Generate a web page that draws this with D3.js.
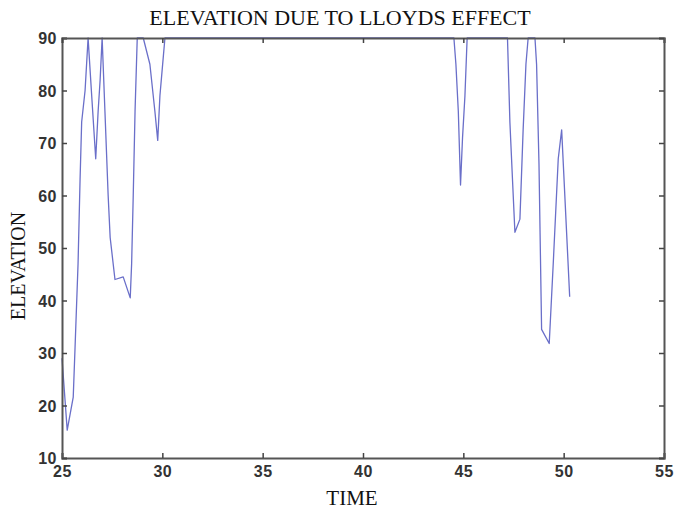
<!DOCTYPE html>
<html>
<head>
<meta charset="utf-8">
<script src="https://cdn.jsdelivr.net/npm/d3@7"></script>
<style>
  html, body { margin: 0; padding: 0; background: #fff; }
  svg { display: block; }
</style>
</head>
<body>
<div id="chart"></div>
<script>
// ---- data ----
const title = "ELEVATION DUE TO LLOYDS EFFECT";
const xLabel = "TIME";
const yLabel = "ELEVATION";
const xTicks = [25, 30, 35, 40, 45, 50, 55];
const yTicks = [10, 20, 30, 40, 50, 60, 70, 80, 90];
const time = [25.0, 25.26, 25.56, 25.65, 25.8, 25.9, 25.98, 26.15, 26.3, 26.48, 26.68, 26.8, 26.9, 27.0,
  27.14, 27.3, 27.4, 27.64, 28.05, 28.4, 28.47, 28.55, 28.64, 28.75, 29.05, 29.38, 29.63, 29.77,
  29.88, 30.05, 30.13, 44.53, 44.63, 44.75, 44.86, 44.96, 45.08, 45.19, 47.2, 47.32, 47.45,
  47.57, 47.82, 47.98, 48.12, 48.23, 48.57, 48.65, 48.77, 48.9, 49.28, 49.48, 49.73, 49.9, 50.3];
const elevation = [29, 15.3, 21.6, 31, 47, 63, 74, 80, 90, 79, 67, 76, 82, 90,
  76, 60, 52, 44, 44.5, 40.5, 47, 60, 76, 90, 90, 85, 76, 70.5,
  79, 86.5, 90, 90, 85, 76, 62, 71, 79, 90, 90, 74, 63,
  53, 55.5, 72.5, 85, 90, 90, 85, 66, 34.5, 31.8, 47, 67, 72.5, 40.7];

// ---- layout ----
const W = 675, H = 510;
const m = { left: 62, right: 11, top: 38, bottom: 52 };
const iw = W - m.left - m.right, ih = H - m.top - m.bottom;

const svg = d3.select("#chart").append("svg").attr("width", W).attr("height", H);

const x = d3.scaleLinear().domain([25, 55]).range([m.left, m.left + iw]);
const y = d3.scaleLinear().domain([10, 90]).range([m.top + ih, m.top]);

// line
const line = d3.line().x((d, i) => x(time[i])).y(d => y(d));
svg.append("path")
  .datum(elevation)
  .attr("fill", "none")
  .attr("stroke", "#6a6fc9")
  .attr("stroke-width", 1.3)
  .attr("stroke-linejoin", "round")
  .attr("d", line);

const axisColor = "#555";
const tickFont = "bold 16px 'Liberation Sans', Arial, sans-serif";

// bottom axis
const gx = svg.append("g").attr("transform", `translate(0,${m.top + ih})`)
  .call(d3.axisBottom(x).tickValues(xTicks).tickSize(-5).tickPadding(8).tickFormat(d3.format("d")));
// left axis
const gy = svg.append("g").attr("transform", `translate(${m.left},0)`)
  .call(d3.axisLeft(y).tickValues(yTicks).tickSize(-5).tickPadding(5).tickFormat(d3.format("d")));
// top axis (ticks only)
const gt = svg.append("g").attr("transform", `translate(0,${m.top})`)
  .call(d3.axisTop(x).tickValues(xTicks).tickSize(-5).tickFormat(""));
// right axis (ticks only)
const gr = svg.append("g").attr("transform", `translate(${m.left + iw},0)`)
  .call(d3.axisRight(y).tickValues(yTicks).tickSize(-5).tickFormat(""));

[gx, gy, gt, gr].forEach(g => {
  g.select(".domain").attr("stroke", axisColor).attr("stroke-width", 2);
  g.selectAll(".tick line").attr("stroke", "#444").attr("stroke-width", 1.5);
  g.selectAll(".tick text").style("font", tickFont).style("letter-spacing", "0.5px").attr("fill", "#333");
});
gy.selectAll(".tick text").attr("dy", "0.35em");

// title and axis labels
const serif = "'Liberation Serif', 'Times New Roman', serif";
svg.append("text").attr("x", 340).attr("y", 25).attr("text-anchor", "middle")
  .style("font-family", serif).style("font-size", "22px").attr("fill", "#111").text(title);
svg.append("text").attr("x", 352).attr("y", 505).attr("text-anchor", "middle")
  .style("font-family", serif).style("font-size", "21px").attr("fill", "#111").text(xLabel);
svg.append("text").attr("transform", `translate(25,266) rotate(-90)`)
  .attr("text-anchor", "middle")
  .style("font-family", serif).style("font-size", "20px").attr("fill", "#111").text(yLabel);
</script>
</body>
</html>
